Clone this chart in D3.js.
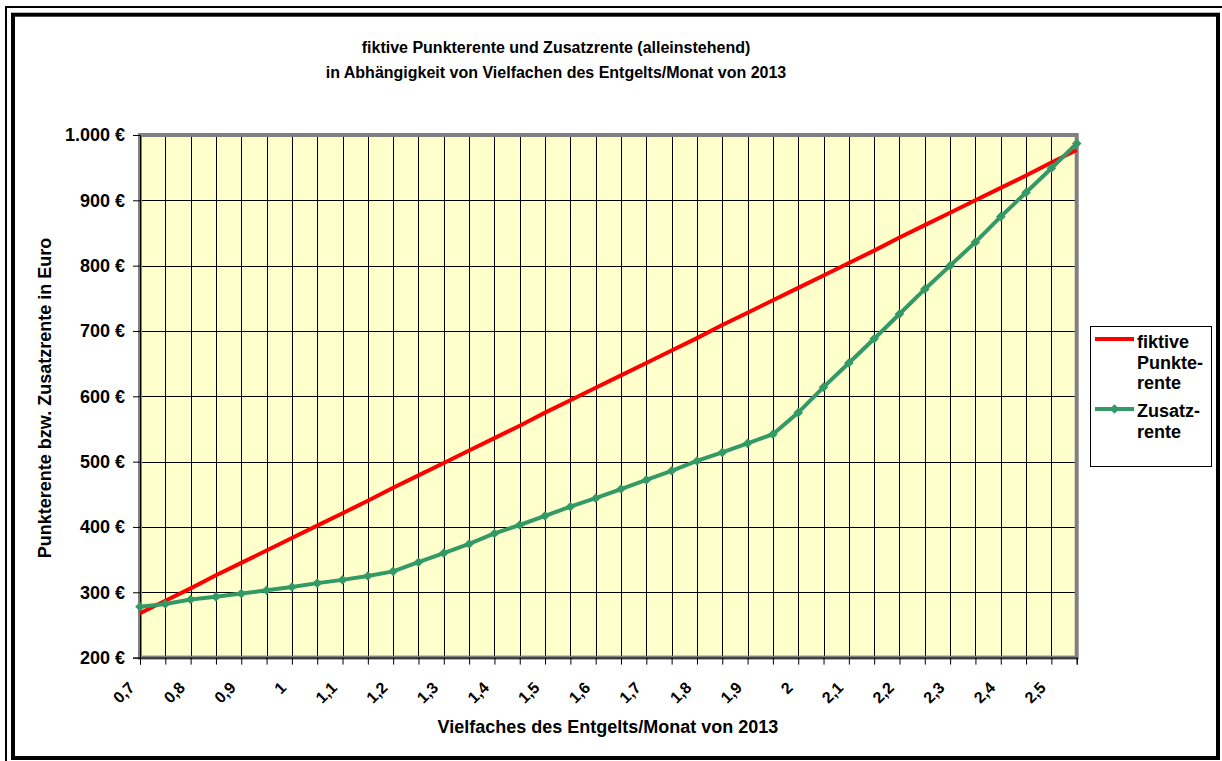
<!DOCTYPE html>
<html>
<head>
<meta charset="utf-8">
<script src="https://cdn.jsdelivr.net/npm/d3@7"></script>
<style>
  body { margin: 0; background: #fff; }
  text { font-family: "Liberation Sans", Arial, sans-serif; font-weight: bold; fill: #000; }
</style>
</head>
<body>
<div id="chart"></div>
<script>
// Vielfaches des Entgelts (categories)
const multiples = [0.7, 0.75, 0.8, 0.85, 0.9, 0.95, 1.0, 1.05, 1.1, 1.15, 1.2, 1.25, 1.3,
    1.35, 1.4, 1.45, 1.5, 1.55, 1.6, 1.65, 1.7, 1.75, 1.8, 1.85, 1.9, 1.95, 2.0, 2.05,
    2.1, 2.15, 2.2, 2.25, 2.3, 2.35, 2.4, 2.45, 2.5, 2.55];

// fiktive Punkterente
const punkterente = [268, 287, 306, 326, 345, 364, 383, 402, 421, 440, 460, 479, 498,
    517, 536, 555, 575, 594, 613, 632, 651, 670, 689, 709, 728, 747, 766, 785,
    804, 823, 843, 862, 881, 900, 919, 938, 958, 977];

// Zusatzrente
const zusatzrente = [278, 282, 289, 293, 298, 303, 308, 314, 319, 325, 332, 346, 360,
    374, 390, 403, 417, 431, 444, 458, 472, 486, 501, 514, 528, 542, 575, 614,
    651, 688, 726, 764, 800, 836, 875, 912, 949, 987];

// labelled categories on the x axis
const xTickLabels = ['0,7', '0,8', '0,9', '1', '1,1', '1,2', '1,3', '1,4', '1,5', '1,6',
    '1,7', '1,8', '1,9', '2', '2,1', '2,2', '2,3', '2,4', '2,5'];

const yTicks = [200, 300, 400, 500, 600, 700, 800, 900, 1000];

const titleLines = ['fiktive Punkterente und Zusatzrente (alleinstehend)',
    'in Abhängigkeit von Vielfachen des Entgelts/Monat von 2013'];

const dims = { width: 1222, height: 761 };
const plot = { left: 140, right: 1076.7, top: 135, bottom: 657.6 };

const red = '#ff0000';
const green = '#339966';

const de = d3.formatLocale({ decimal: ',', thousands: '.', grouping: [3], currency: ['', ' €'] });
const fmtEuro = de.format('$,.0f');

const svg = d3.select('#chart')
    .append('svg')
    .attr('width', dims.width)
    .attr('height', dims.height);

// frames round the chart
svg.append('rect')
    .attr('x', 6).attr('y', 7)
    .attr('width', 1300).attr('height', 1000)
    .attr('fill', 'none').attr('stroke', '#000').attr('stroke-width', 2);
svg.append('rect')
    .attr('x', 13).attr('y', 14.7)
    .attr('width', 1205).attr('height', 743.3)
    .attr('fill', '#fff').attr('stroke', '#000').attr('stroke-width', 4);

// scales
const x = d3.scalePoint()
    .domain(multiples)
    .range([plot.left, plot.right]);

const y = d3.scaleLinear()
    .domain([200, 1000])
    .range([plot.bottom, plot.top]);

// plot area
svg.append('rect')
    .attr('x', plot.left).attr('y', plot.top)
    .attr('width', plot.right - plot.left).attr('height', plot.bottom - plot.top)
    .attr('fill', '#ffffcc');

const grid = svg.append('g').attr('stroke', '#000').attr('stroke-width', 1);

grid.selectAll('.vgrid')
    .data(multiples.slice(1))
    .enter().append('line')
    .attr('class', 'vgrid')
    .attr('x1', d => Math.round(x(d)) + 0.5).attr('x2', d => Math.round(x(d)) + 0.5)
    .attr('y1', plot.top).attr('y2', plot.bottom);

grid.selectAll('.hgrid')
    .data(yTicks.slice(1))
    .enter().append('line')
    .attr('class', 'hgrid')
    .attr('y1', d => Math.round(y(d)) + 0.5).attr('y2', d => Math.round(y(d)) + 0.5)
    .attr('x1', plot.left).attr('x2', plot.right);

// plot border
svg.append('rect')
    .attr('x', plot.left).attr('y', plot.top)
    .attr('width', plot.right - plot.left).attr('height', plot.bottom - plot.top)
    .attr('fill', 'none').attr('stroke', '#808080').attr('stroke-width', 4);

// y axis
const yAxis = d3.axisLeft(y)
    .tickValues(yTicks)
    .tickFormat(fmtEuro)
    .tickSize(7)
    .tickPadding(8);

const gy = svg.append('g')
    .attr('transform', `translate(${plot.left},0)`)
    .call(yAxis);
gy.select('.domain').attr('stroke', '#000').attr('stroke-width', 1);
gy.selectAll('.tick line').attr('stroke', '#000');
gy.selectAll('.tick text')
    .style('font-size', '18px')
    .attr('font-family', null);

// x axis
const labelled = multiples.filter((d, i) => i % 2 === 0);
const xAxis = d3.axisBottom(x)
    .tickSize(7)
    .tickFormat(d => {
        const i = labelled.indexOf(d);
        return i >= 0 ? xTickLabels[i] : '';
    });

const gx = svg.append('g')
    .attr('transform', `translate(0,${plot.bottom})`)
    .call(xAxis);
gx.select('.domain').attr('stroke', '#000').attr('stroke-width', 1);
gx.selectAll('.tick line').attr('stroke', '#000');
gx.selectAll('.tick text')
    .style('font-size', '16px')
    .attr('font-family', null)
    .attr('text-anchor', 'end')
    .attr('dy', null)
    .attr('y', 0)
    .attr('transform', 'translate(-5,31) rotate(-45)');

// series
const line = d3.line()
    .x((d, i) => x(multiples[i]))
    .y(d => y(d));

svg.append('path')
    .datum(punkterente)
    .attr('d', line)
    .attr('fill', 'none')
    .attr('stroke', red)
    .attr('stroke-width', 4);

svg.append('path')
    .datum(zusatzrente)
    .attr('d', line)
    .attr('fill', 'none')
    .attr('stroke', green)
    .attr('stroke-width', 4);

const diamond = d3.symbol().type(d3.symbolSquare).size(46);

svg.selectAll('.marker')
    .data(zusatzrente)
    .enter().append('path')
    .attr('class', 'marker')
    .attr('d', diamond)
    .attr('fill', green)
    .attr('transform', (d, i) => `translate(${x(multiples[i])},${y(d)}) rotate(45)`);

// title
svg.append('text')
    .attr('text-anchor', 'middle')
    .style('font-size', '16px')
    .selectAll('tspan')
    .data(titleLines)
    .enter().append('tspan')
    .attr('x', 556)
    .attr('y', (d, i) => 53 + i * 25)
    .text(d => d);

// axis titles
svg.append('text')
    .attr('text-anchor', 'middle')
    .style('font-size', '18px')
    .attr('x', 608)
    .attr('y', 733)
    .text('Vielfaches des Entgelts/Monat von 2013');

svg.append('text')
    .attr('text-anchor', 'middle')
    .style('font-size', '18px')
    .attr('transform', 'translate(51,398) rotate(-90)')
    .text('Punkterente bzw. Zusatzrente in Euro');

// legend
const legend = svg.append('g');
legend.append('rect')
    .attr('x', 1090.5).attr('y', 326.5)
    .attr('width', 121).attr('height', 140)
    .attr('fill', '#fff').attr('stroke', '#000').attr('stroke-width', 1);

const legendItems = [
    { color: red, marker: false, lineY: 339, lines: ['fiktive', 'Punkte-', 'rente'], textY: 348 },
    { color: green, marker: true, lineY: 409, lines: ['Zusatz-', 'rente'], textY: 417 }
];

legendItems.forEach(item => {
    legend.append('line')
        .attr('x1', 1095).attr('x2', 1134)
        .attr('y1', item.lineY).attr('y2', item.lineY)
        .attr('stroke', item.color).attr('stroke-width', 4);
    if (item.marker) {
        legend.append('path')
            .attr('d', diamond)
            .attr('fill', item.color)
            .attr('transform', `translate(1114.5,${item.lineY}) rotate(45)`);
    }
    legend.append('text')
        .style('font-size', '18px')
        .selectAll('tspan')
        .data(item.lines)
        .enter().append('tspan')
        .attr('x', 1137)
        .attr('y', (d, i) => item.textY + i * 20.5)
        .text(d => d);
});
</script>
</body>
</html>
